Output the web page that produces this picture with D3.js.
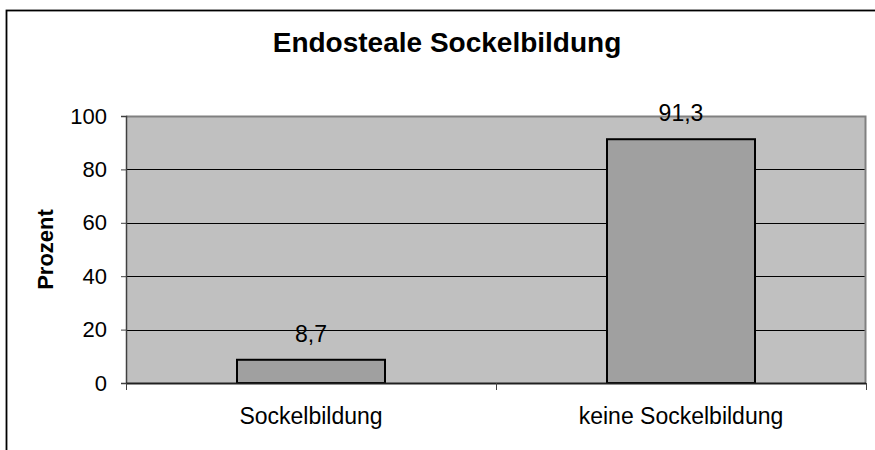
<!DOCTYPE html>
<html>
<head>
<meta charset="utf-8">
<script src="https://cdn.jsdelivr.net/npm/d3@7/dist/d3.min.js"></script>
<style>
  html, body { margin: 0; padding: 0; background: #fff; }
  svg { display: block; font-family: "Liberation Sans", Arial, sans-serif; }
</style>
</head>
<body>
<svg id="chart" width="875" height="450"></svg>
<script>
// Chart data
const categories = ["Sockelbildung", "keine Sockelbildung"];
const values = [8.7, 91.3];
const valueLabels = ["8,7", "91,3"];
const yTicks = [0, 20, 40, 60, 80, 100];
const titleText = "Endosteale Sockelbildung";
const yAxisTitle = "Prozent";

const svg = d3.select("#chart");
const FONT = "'Liberation Sans', Arial, sans-serif";
const plot = { left: 126, top: 116, right: 866, bottom: 383 };

// Outer frame (extends past the right and bottom edges)
svg.append("rect")
  .attr("x", 6.5).attr("y", 10.5)
  .attr("width", 875).attr("height", 460)
  .attr("fill", "#fff").attr("stroke", "#000").attr("stroke-width", 1.8);

const x = d3.scaleBand()
  .domain(categories)
  .range([plot.left, plot.right])
  .paddingInner(0.6).paddingOuter(0.3);

const y = d3.scaleLinear().domain([0, 100]).range([plot.bottom, plot.top]);

// Plot background
svg.append("rect")
  .attr("x", plot.left).attr("y", plot.top)
  .attr("width", plot.right - plot.left).attr("height", plot.bottom - plot.top)
  .attr("fill", "#C0C0C0");

// Gridlines
svg.append("g")
  .selectAll("line")
  .data(yTicks.filter(t => t > 0 && t < 100))
  .join("line")
  .attr("x1", plot.left).attr("x2", plot.right)
  .attr("y1", d => Math.round(y(d)) + 0.5).attr("y2", d => Math.round(y(d)) + 0.5)
  .attr("stroke", "#000").attr("stroke-width", 1);

// Plot border top and right
svg.append("path")
  .attr("d", `M${plot.left},${plot.top + 0.5}H${plot.right - 0.5}V${plot.bottom}`)
  .attr("fill", "none").attr("stroke", "#808080").attr("stroke-width", 2);

// Bars
svg.append("g")
  .selectAll("rect")
  .data(values)
  .join("rect")
  .attr("x", (d, i) => x(categories[i]))
  .attr("y", d => y(d))
  .attr("width", x.bandwidth())
  .attr("height", d => y(0) - y(d))
  .attr("fill", "#A0A0A0")
  .attr("stroke", "#000").attr("stroke-width", 2);

// Value labels
svg.append("g")
  .selectAll("text")
  .data(values)
  .join("text")
  .attr("x", (d, i) => x(categories[i]) + x.bandwidth() / 2)
  .attr("y", d => y(d) - 18)
  .attr("text-anchor", "middle")
  .attr("font-size", 23)
  .attr("font-family", FONT)
  .attr("fill", "#000")
  .text((d, i) => valueLabels[i]);

// Y axis
const yAxis = svg.append("g")
  .attr("transform", `translate(${plot.left},0)`)
  .call(d3.axisLeft(y).tickValues(yTicks).tickSize(5).tickPadding(14).tickFormat(d3.format("d")));
yAxis.select(".domain").attr("stroke", "#404040").attr("stroke-width", 1.5);
yAxis.selectAll(".tick line").attr("stroke", "#404040");
yAxis.selectAll(".tick text")
  .attr("font-size", 22).attr("fill", "#000")
  .attr("font-family", FONT);

// X axis
const xEdges = [plot.left, (plot.left + plot.right) / 2, plot.right];
svg.append("line")
  .attr("x1", plot.left).attr("x2", plot.right)
  .attr("y1", plot.bottom + 0.5).attr("y2", plot.bottom + 0.5)
  .attr("stroke", "#202020").attr("stroke-width", 2);
svg.append("g")
  .selectAll("line")
  .data(xEdges)
  .join("line")
  .attr("x1", d => Math.round(d) + 0.5).attr("x2", d => Math.round(d) + 0.5)
  .attr("y1", plot.bottom).attr("y2", plot.bottom + 7)
  .attr("stroke", "#404040").attr("stroke-width", 1);

svg.append("g")
  .selectAll("text")
  .data(categories)
  .join("text")
  .attr("x", d => x(d) + x.bandwidth() / 2)
  .attr("y", 424)
  .attr("text-anchor", "middle")
  .attr("font-size", 23)
  .attr("font-family", FONT)
  .attr("fill", "#000")
  .text(d => d);

// Title
svg.append("text")
  .attr("x", 447).attr("y", 52)
  .attr("text-anchor", "middle")
  .attr("font-size", 28).attr("font-weight", "bold")
  .attr("font-family", FONT)
  .text(titleText);

// Y axis title
svg.append("text")
  .attr("transform", `translate(53,${(plot.top + plot.bottom) / 2}) rotate(-90)`)
  .attr("text-anchor", "middle")
  .attr("font-size", 22).attr("font-weight", "bold")
  .attr("font-family", FONT)
  .text(yAxisTitle);
</script>
</body>
</html>
